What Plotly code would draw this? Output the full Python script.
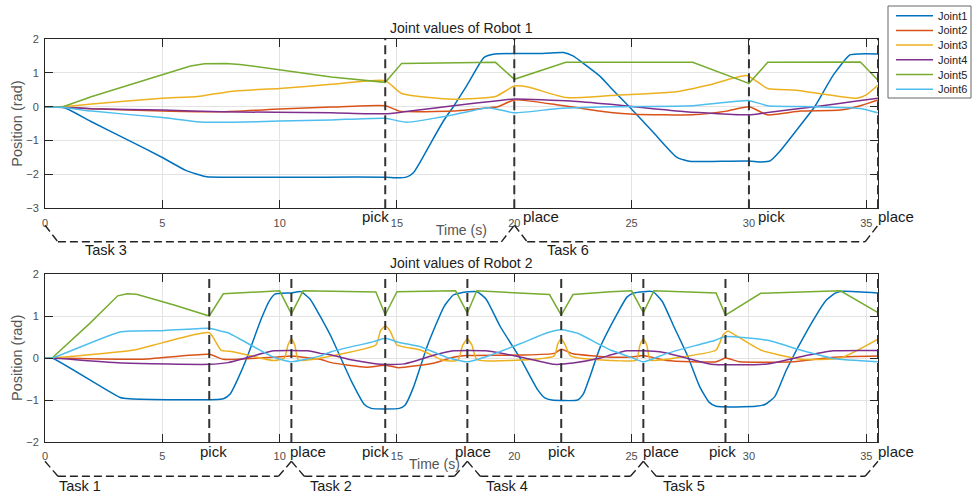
import plotly.graph_objects as go

# ---------------- data ----------------
joint_names = ["Joint1", "Joint2", "Joint3", "Joint4", "Joint5", "Joint6"]
joint_colors = ["#0072BD", "#D95319", "#EDB120", "#7E2F8E", "#77AC30", "#4DBEEE"]
joint_smooth = [True, True, True, True, False, True]

# Robot 1
r1_j1_t = [0, 0.8, 2, 3.5, 5, 6, 6.9, 8, 12, 14.5, 15.0, 15.4, 15.7, 16.0, 16.5, 17.0, 17.4, 18.0, 18.7, 19.1, 20, 21,
           22.1, 22.5, 23.0, 23.67, 24.1, 24.9, 25.9, 26.9, 27.4, 27.8, 30, 30.5, 30.9, 31.3, 32.2, 32.8, 33.6, 34.3, 34.7, 35.5]
r1_j1_v = [0, -0.02, -0.45, -0.97, -1.5, -1.88, -2.07, -2.08, -2.08, -2.08, -2.1, -2.08, -1.95, -1.62, -1.0, -0.4, 0.0,
           0.65, 1.45, 1.55, 1.57, 1.57, 1.6, 1.5, 1.25, 0.89, 0.57, 0.0, -0.74, -1.48, -1.6, -1.62, -1.6, -1.63, -1.6,
           -1.33, -0.54, 0.0, 0.94, 1.53, 1.56, 1.56]
r1_j2_t = [0, 0.8, 2, 5, 7.5, 10, 12.2, 14.5, 15.1, 17.4, 18.9, 19.3, 20, 21.9, 24.1, 25.1, 27.6, 29.05, 30, 30.8, 32.2,
           33.9, 34.75, 35.5]
r1_j2_v = [0, -0.01, -0.06, -0.13, -0.15, -0.07, -0.01, 0.03, -0.13, -0.13, -0.03, 0.0, 0.2, 0.05, -0.17, -0.22, -0.24,
           -0.13, 0.0, -0.24, -0.13, -0.1, 0.03, 0.2]
r1_j3_t = [0, 0.8, 2, 5, 6.5, 8, 10, 12.2, 14.5, 15.2, 17.4, 19.2, 20, 20.6, 22.2, 24.1, 26.9, 28.3, 29.9, 30.8, 32,
           34.6, 35, 35.5]
r1_j3_v = [0, 0.01, 0.08, 0.25, 0.3, 0.46, 0.54, 0.66, 0.77, 0.39, 0.22, 0.3, 0.61, 0.58, 0.27, 0.33, 0.44, 0.64, 0.92,
           0.54, 0.49, 0.25, 0.35, 0.64]
r1_j4_t = [0, 0.8, 2, 5, 7.5, 12.2, 14.5, 15.3, 17.4, 19.2, 20, 22.4, 24.1, 25.1, 27.3, 30, 30.8, 32.8, 34.6, 35.5]
r1_j4_v = [0, -0.02, -0.06, -0.1, -0.15, -0.18, -0.21, -0.15, 0.03, 0.17, 0.23, 0.17, 0.07, 0.0, -0.15, -0.24, -0.17,
           0.0, 0.17, 0.25]
r1_j5_t = [0, 0.8, 2, 5, 6.2, 6.8, 7.7, 8.3, 10, 12.2, 14.5, 15.2, 19.2, 20, 22.2, 27.6, 30, 30.8, 34.75, 35.5]
r1_j5_v = [0, 0.01, 0.3, 0.94, 1.2, 1.27, 1.28, 1.25, 1.08, 0.88, 0.72, 1.28, 1.31, 0.81, 1.31, 1.31, 0.69, 1.31,
           1.32, 0.78]
r1_j6_t = [0, 0.8, 2, 5, 6.6, 8, 10, 12.2, 14.5, 15.4, 17.4, 18.9, 20, 21.9, 24.1, 27.6, 30, 30.8, 32.8, 34.75, 35.5]
r1_j6_v = [0, -0.02, -0.13, -0.32, -0.45, -0.46, -0.42, -0.39, -0.34, -0.46, -0.24, -0.03, -0.18, -0.05, 0.0, 0.03,
           0.18, 0.03, 0.0, -0.05, -0.18]

# Robot 2
r2_j1_t = [0, 0.3, 3.2, 3.6, 7.6, 7.9, 8.2, 8.6, 9.2, 9.55, 9.8, 10.5, 10.9, 11.3, 11.73, 12.2, 12.58, 13.1, 13.6, 13.9,
           15.1, 15.35, 15.7, 16.3, 17.0, 17.4, 17.7, 18.4, 18.8, 19.4, 20.3, 21.0, 21.3, 21.6, 22.7, 22.95, 23.2, 23.67,
           24.4, 24.8, 25.1, 25.9, 26.3, 26.8, 27.4, 27.9, 28.3, 28.6, 30.3, 30.7, 31.1, 31.6, 32.5, 33.3, 33.7, 34.0, 35.5]
r2_j1_v = [0, 0, -0.94, -0.97, -0.97, -0.85, -0.52, 0.0, 0.91, 1.35, 1.52, 1.55, 1.58, 1.4, 0.99, 0.5, 0.03, -0.6, -1.1,
           -1.2, -1.2, -1.12, -0.7, 0.3, 1.22, 1.5, 1.55, 1.58, 1.4, 0.75, -0.05, -0.76, -0.95, -1.0, -1.0, -0.85, -0.48,
           0.27, 1.07, 1.45, 1.55, 1.58, 1.35, 0.75, 0.03, -0.68, -1.05, -1.15, -1.15, -1.1, -0.92, -0.28, 0.67, 1.38,
           1.55, 1.59, 1.55]
r2_j2_t = [0, 0.3, 4.1, 7.0, 7.6, 9.74, 10.5, 11.0, 11.73, 12.2, 13.7, 14.5, 15.05, 16.6, 17.4, 18.0, 20.3, 21.7, 22.0,
           22.5, 24.1, 25.1, 25.5, 26.5, 28.6, 29.0, 29.6, 31.9, 33.6, 35.5]
r2_j2_v = [0, 0, -0.03, 0.09, -0.03, 0.02, 0.05, 0.02, -0.03, -0.11, -0.22, -0.17, -0.23, -0.12, 0.02, 0.06, 0.07, 0.11,
           0.21, 0.1, 0.02, 0.03, 0.06, -0.06, -0.09, 0.0, -0.09, -0.09, 0.02, 0.05]
r2_j3_t = [0, 0.3, 3.8, 5, 7.0, 7.5, 8.0, 9.74, 10.2, 10.35, 10.5, 10.65, 10.8, 11.73, 12.2, 14.1, 14.3, 14.5, 14.7, 15.0,
           16.0, 17.0, 17.6, 17.8, 18.0, 18.2, 18.4, 21.7, 21.85, 22.0, 22.15, 22.4, 24.1, 25.2, 25.35, 25.5, 25.65,
           25.8, 27.2, 28.6, 28.9, 29.1, 29.4, 30.5, 32.2, 33.9, 35.5]
r2_j3_v = [0, 0, 0.19, 0.36, 0.6, 0.19, 0.15, -0.06, 0.0, 0.3, 0.45, 0.3, -0.05, 0.0, 0.05, 0.31, 0.65, 0.76, 0.65, 0.31,
           0.19, -0.06, -0.05, 0.3, 0.45, 0.3, -0.03, 0.05, 0.33, 0.45, 0.33, 0.05, -0.06, -0.05, 0.3, 0.45, 0.3, -0.05,
           0.03, 0.19, 0.55, 0.64, 0.55, 0.19, -0.03, 0.0, 0.45]
r2_j4_t = [0, 0.3, 3.35, 7.0, 7.8, 9.74, 11.2, 11.73, 12.2, 13.1, 14.3, 15.3, 16.6, 17.4, 18.8, 20.3, 21.7, 22.5, 23.67,
           24.1, 24.8, 26.2, 27.2, 28.4, 30.8, 32.2, 33.6, 35.5]
r2_j4_v = [0, 0, -0.12, -0.15, -0.11, 0.17, 0.17, 0.11, 0.07, -0.05, -0.15, -0.14, 0.07, 0.17, 0.17, 0.02, -0.15, -0.12,
           0.0, 0.07, 0.17, 0.15, 0.02, -0.15, -0.14, 0.03, 0.17, 0.18]
r2_j5_t = [0, 0.3, 1.92, 3.1, 3.5, 3.9, 5.5, 7.0, 7.6, 10.0, 10.5, 11.0, 14.1, 14.5, 15.0, 17.5, 18.0, 18.4, 21.5, 22.0,
           22.5, 24.1, 25.0, 25.5, 25.95, 28.6, 29.0, 30.5, 33.9, 35.5]
r2_j5_v = [0, 0, 0.83, 1.48, 1.53, 1.52, 1.26, 1.0, 1.53, 1.6, 1.05, 1.6, 1.57, 1.03, 1.58, 1.6, 1.07, 1.6, 1.51, 1.02,
           1.51, 1.58, 1.6, 1.08, 1.6, 1.55, 1.02, 1.54, 1.6, 1.08]
r2_j6_t = [0, 0.3, 3.2, 5, 7.0, 7.5, 7.8, 9.74, 10.5, 11.73, 12.2, 14.0, 14.5, 15.1, 16.0, 17.1, 18.0, 18.8, 20.3, 21.4,
           22.0, 22.7, 23.67, 24.1, 24.95, 25.5, 26.5, 28.6, 29.0, 30.8, 32.2, 33.6, 35.5]
r2_j6_v = [0, 0, 0.62, 0.65, 0.71, 0.64, 0.6, 0.02, -0.09, 0.05, 0.15, 0.39, 0.47, 0.37, 0.27, 0.02, -0.09, 0.03, 0.35,
           0.6, 0.67, 0.59, 0.31, 0.19, 0.02, -0.09, 0.11, 0.43, 0.51, 0.42, 0.19, -0.01, -0.09]

r1_series = [(r1_j1_t, r1_j1_v), (r1_j2_t, r1_j2_v), (r1_j3_t, r1_j3_v),
             (r1_j4_t, r1_j4_v), (r1_j5_t, r1_j5_v), (r1_j6_t, r1_j6_v)]
r2_series = [(r2_j1_t, r2_j1_v), (r2_j2_t, r2_j2_v), (r2_j3_t, r2_j3_v),
             (r2_j4_t, r2_j4_v), (r2_j5_t, r2_j5_v), (r2_j6_t, r2_j6_v)]

# events (pick / place) and tasks
r1_event_t = [14.5, 20, 30, 35.5]
r1_event_lbl = ["pick", "place", "pick", "place"]
r1_event_lbl_t = [14.07, 21.14, 30.95, 36.25]
r2_event_t = [7, 10.5, 14.5, 18, 22, 25.5, 29, 35.5]
r2_event_lbl = ["pick", "place", "pick", "place", "pick", "place", "pick", "place"]
r2_event_lbl_t = [7.18, 11.21, 14.07, 18.26, 22.02, 26.24, 28.88, 36.25]

r1_tasks = ["Task 3", "Task 6"]
r1_task_bounds = [0, 20, 35.5]
r1_task_lbl_t = [2.62, 22.31]
r2_tasks = ["Task 1", "Task 2", "Task 4", "Task 5"]
r2_task_bounds = [0, 10.5, 18, 25.5, 35.5]
r2_task_lbl_t = [1.49, 12.17, 19.67, 27.22]

x_ticks = [0, 5, 10, 15, 20, 25, 30, 35]
r1_y_ticks = [-3, -2, -1, 0, 1, 2]
r2_y_ticks = [-2, -1, 0, 1, 2]
X_MAX = 35.5

# ---------------- layout helpers ----------------
W, H = 974, 498
ML, MR, MT, MB = 45, 96, 39, 56
PW, PH = W - ML - MR, H - MT - MB
TOP_DOM = [(442 - 208.3) / PH, 1.0]
BOT_DOM = [0.0, (442 - 274) / PH]


def px_x(px):
    return (px - ML) / PW


def px_y(py):
    return (H - MB - py) / PH


def tx(t):
    """data time -> paper x (x axes span the whole paper width)"""
    return t / X_MAX


FONT = "Liberation Sans, Arial, Helvetica, sans-serif"
TICK_GRAY = "#4d4d4d"
DARK = "#262626"

fig = go.Figure()
for axes, series in (("x", r1_series), ("x2", r2_series)):
    yax = "y" if axes == "x" else "y2"
    for i, name in enumerate(joint_names):
        t, v = series[i]
        line = dict(color=joint_colors[i], width=1.5)
        if joint_smooth[i]:
            line.update(shape="spline", smoothing=0.5)
        fig.add_trace(go.Scatter(x=t, y=v, mode="lines", name=name, showlegend=False,
                                 line=line, xaxis=axes, yaxis=yax))

axis_common = dict(showline=True, linecolor=DARK, linewidth=1, mirror="ticks", ticks="inside",
                   ticklen=8, tickwidth=1.3, tickcolor=DARK, showgrid=True, gridcolor="#e3e3e3",
                   gridwidth=1, zeroline=False, tickfont=dict(family=FONT, size=11, color=TICK_GRAY))

fig.update_layout(
    width=W, height=H, margin=dict(l=ML, r=MR, t=MT, b=MB),
    paper_bgcolor="white", plot_bgcolor="white", showlegend=False,
    font=dict(family=FONT),
    xaxis=dict(domain=[0, 1], anchor="y", range=[0, X_MAX], tickvals=x_ticks,
               ticklabelstandoff=4, **axis_common),
    yaxis=dict(domain=TOP_DOM, anchor="x", range=[-3, 2], tickvals=r1_y_ticks,
               ticklabelstandoff=3, **axis_common),
    xaxis2=dict(domain=[0, 1], anchor="y2", range=[0, X_MAX], tickvals=x_ticks,
                ticklabelstandoff=4, **axis_common),
    yaxis2=dict(domain=BOT_DOM, anchor="x2", range=[-2, 2], tickvals=r2_y_ticks,
                ticklabelstandoff=3, **axis_common),
)

shapes = []
annotations = []


def add_panel_decor(xref, yref, dom, title, ev_t, ev_lbl, ev_lbl_t, lbl_y, tasks, bounds, task_t,
                    task_y, end_y, horiz_y, time_x, time_y):
    def py(f):
        return dom[0] + f * (dom[1] - dom[0])

    # dashed vertical event lines
    for t in ev_t:
        shapes.append(dict(type="line", xref="paper", yref="paper", x0=tx(t), x1=tx(t),
                           y0=dom[0], y1=dom[1],
                           line=dict(color="#333333", width=2, dash="9px,5px"), layer="above"))
    for t, lbl in zip(ev_lbl_t, ev_lbl):
        annotations.append(dict(x=tx(t), y=py(lbl_y), xref="paper", yref="paper", text=lbl,
                                showarrow=False, xanchor="center", yanchor="middle",
                                font=dict(size=15, color="#1a1a1a", family=FONT)))
    # task braces
    d = 0.55
    for k, name in enumerate(tasks):
        a, b = bounds[k], bounds[k + 1]
        pts = [(a, end_y), (a + d, horiz_y), (b - d, horiz_y), (b, end_y)]
        for (xa, ya), (xb, yb) in zip(pts[:-1], pts[1:]):
            shapes.append(dict(type="line", xref="paper", yref="paper", x0=tx(xa), x1=tx(xb),
                               y0=py(ya), y1=py(yb),
                               line=dict(color="#222222", width=1.4, dash="8px,4px")))
        annotations.append(dict(x=tx(task_t[k]), y=py(task_y), xref="paper", yref="paper", text=name,
                                showarrow=False, xanchor="center", yanchor="middle",
                                font=dict(size=14.5, color="#1a1a1a", family=FONT)))
    # title
    annotations.append(dict(x=0.5, y=dom[1], xref="paper", yref="paper", text=title,
                            showarrow=False, xanchor="center", yanchor="bottom", yshift=1,
                            font=dict(size=14, color="#222222", family=FONT)))
    # axis labels
    annotations.append(dict(x=tx(time_x), y=py(time_y), xref="paper", yref="paper", text="Time (s)",
                            showarrow=False, xanchor="center", yanchor="middle",
                            font=dict(size=14, color="#555555", family=FONT)))
    annotations.append(dict(x=0, y=py(0.5), xref="paper", yref="paper",
                            text="Position (rad)", textangle=-90, showarrow=False,
                            xanchor="center", yanchor="middle", xshift=-28,
                            font=dict(size=14.5, color="#555555", family=FONT)))


add_panel_decor("x", "y", TOP_DOM, "Joint values of Robot 1", r1_event_t, r1_event_lbl, r1_event_lbl_t,
                -0.051, r1_tasks, r1_task_bounds, r1_task_lbl_t, -0.246, -0.1, -0.198, 17.73, -0.128)
add_panel_decor("x2", "y2", BOT_DOM, "Joint values of Robot 2", r2_event_t, r2_event_lbl, r2_event_lbl_t,
                -0.058, r2_tasks, r2_task_bounds, r2_task_lbl_t, -0.26, -0.115, -0.204, 16.58, -0.129)

# custom legend (compact, like the reference)
LEG_L, LEG_R, LEG_T, LEG_B = 888, 971, 6, 98
shapes.append(dict(type="rect", xref="paper", yref="paper", x0=px_x(LEG_L), x1=px_x(LEG_R),
                   y0=px_y(LEG_B), y1=px_y(LEG_T), line=dict(color="#666666", width=1),
                   fillcolor="white"))
for i, name in enumerate(joint_names):
    yy = 15.7 + i * 14.7
    shapes.append(dict(type="line", xref="paper", yref="paper", x0=px_x(896), x1=px_x(933),
                       y0=px_y(yy), y1=px_y(yy), line=dict(color=joint_colors[i], width=1.5)))
    annotations.append(dict(x=px_x(936), y=px_y(yy), xref="paper", yref="paper", text=name,
                            showarrow=False, xanchor="left", yanchor="middle",
                            font=dict(size=11, color="#222222", family=FONT)))

fig.update_layout(shapes=shapes, annotations=annotations)
fig.write_html("out.html")
